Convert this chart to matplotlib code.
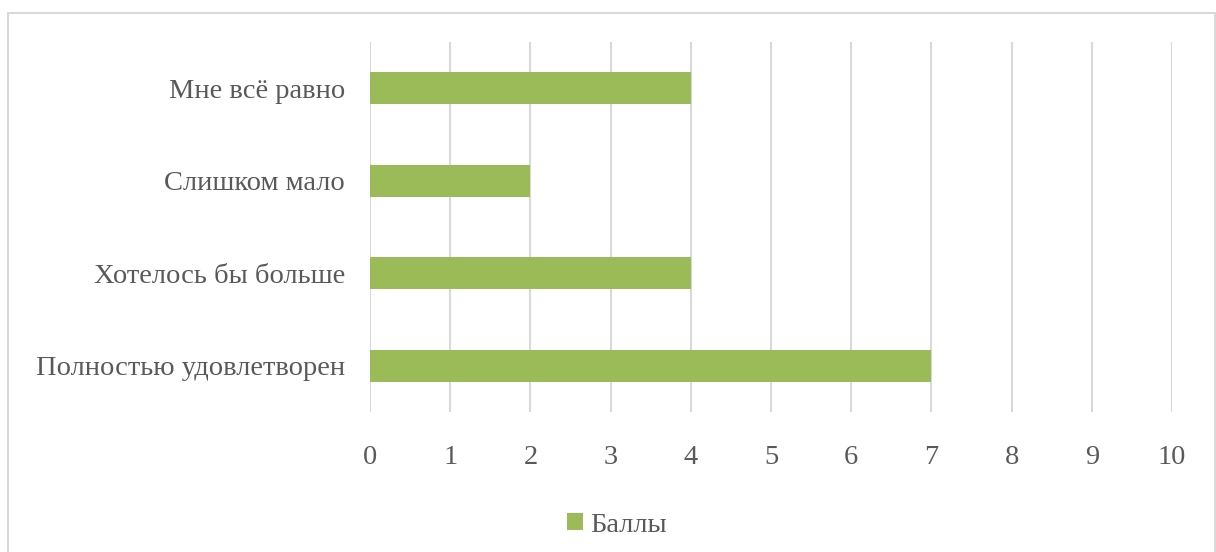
import matplotlib
matplotlib.use("Agg")
import matplotlib.pyplot as plt
from matplotlib.patches import Rectangle

categories = ["Полностью удовлетворен", "Хотелось бы больше", "Слишком мало", "Мне всё равно"]
values = [7, 4, 2, 4]
series_name = "Баллы"
xticks = list(range(0, 11))

plt.rcParams['font.family'] = ['Liberation Serif', 'DejaVu Serif']
text_color = "#595959"
bar_color = "#9BBB59"
grid_color = "#D9D9D9"

fig = plt.figure(figsize=(12.16, 5.52), dpi=100)
ax = fig.add_axes([370/1216, 1-412/552, (1172-370)/1216, (412-42)/552])

ax.barh(range(len(categories)), values, height=0.35, color=bar_color, label=series_name, zorder=3)
ax.set_xlim(0, 10)
ax.set_ylim(-0.5, len(categories) - 0.5)
ax.set_xticks(xticks)
ax.set_xticklabels([str(t) for t in xticks])
ax.set_yticks(range(len(categories)))
ax.set_yticklabels(categories)
ax.grid(axis='x', color=grid_color, linewidth=1.5, zorder=0)
for s in ax.spines.values():
    s.set_visible(False)
ax.tick_params(axis='both', length=0, labelsize=20.5, colors=text_color)
ax.tick_params(axis='x', pad=24)
ax.tick_params(axis='y', pad=18)

leg = fig.legend(loc='center', bbox_to_anchor=(617/1216, 1-525/552), frameon=False,
                 fontsize=20.5, handlelength=0.55, handleheight=0.55, handletextpad=0.25,
                 labelcolor=text_color)

fig.patches.append(Rectangle((8/1216, -0.01), (1215-8)/1216, 1-13/552+0.01,
                             transform=fig.transFigure, fill=False,
                             edgecolor=grid_color, linewidth=1.5))

fig.savefig("out.png", dpi=100)
